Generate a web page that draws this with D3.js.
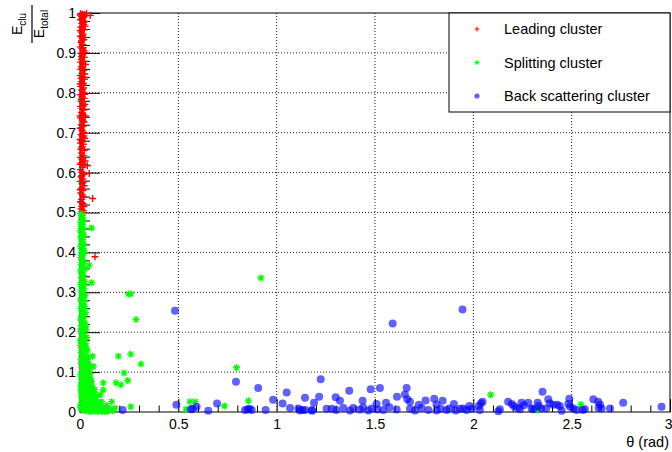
<!DOCTYPE html>
<html>
<head>
<meta charset="utf-8">
<script src="https://cdn.jsdelivr.net/npm/d3@7"></script>
<style>
  body { margin: 0; background: #fff; }
  text { font-family: "Liberation Sans", Arial, Helvetica, sans-serif; fill: #000; }
  .grid line { stroke: #222; stroke-width: 1; stroke-dasharray: 1,2; }
  .axis path { display: none; }
  .axis line { stroke: #000; stroke-width: 1; }
</style>
</head>
<body>
<div id="graphic"></div>
<script>
(function(d3){

    // Canvas size
    let width = 672, height = 452;

    // Axis ticks
    let xMajorTicks = [0, 0.5, 1, 1.5, 2, 2.5, 3];
    let xMinorTicks = [0.1, 0.2, 0.3, 0.4, 0.6, 0.7, 0.8, 0.9, 1.1, 1.2, 1.3, 1.4, 1.6, 1.7, 1.8, 1.9,
                       2.1, 2.2, 2.3, 2.4, 2.6, 2.7, 2.8, 2.9];
    let yMajorTicks = [0, 0.1, 0.2, 0.3, 0.4, 0.5, 0.6, 0.7, 0.8, 0.9, 1];
    let yMinorTicks = [0.02, 0.04, 0.06, 0.08, 0.12, 0.14, 0.16, 0.18, 0.22, 0.24, 0.26, 0.28,
                       0.32, 0.34, 0.36, 0.38, 0.42, 0.44, 0.46, 0.48, 0.52, 0.54, 0.56, 0.58,
                       0.62, 0.64, 0.66, 0.68, 0.72, 0.74, 0.76, 0.78, 0.82, 0.84, 0.86, 0.88,
                       0.92, 0.94, 0.96, 0.98];

    let seriesNames = ['Leading cluster', 'Splitting cluster', 'Back scattering cluster'];

    // Leading cluster: [theta, E_clu/E_total]
    let leading = [
        [.004,.998],[.012,.997],[.021,.996],[.033,.999],[.052,.994],[.008,.991],[.017,.989],[.027,.993],
        [.003,.983],[.014,.981],[.024,.979],[.009,.974],[.019,.971],[.005,.965],[.013,.962],[.022,.958],
        [.007,.952],[.016,.947],[.003,.941],[.011,.937],[.019,.933],[.006,.926],[.014,.921],[.002,.915],
        [.01,.911],[.018,.906],[.005,.899],[.013,.895],[.021,.889],[.008,.884],[.003,.877],[.015,.874],
        [.028,.871],[.009,.866],[.004,.859],[.017,.856],[.011,.849],[.002,.843],[.014,.839],[.022,.834],
        [.007,.828],[.012,.822],[.004,.816],[.018,.812],[.009,.806],[.015,.801],[.003,.795],[.011,.79],
        [.021,.786],[.006,.779],[.014,.774],[.025,.771],[.003,.766],[.01,.761],[.019,.757],[.008,.751],
        [.016,.745],[.027,.742],[.004,.737],[.012,.732],[.021,.727],[.007,.72],[.015,.716],[.002,.711],
        [.011,.706],[.019,.701],[.006,.695],[.014,.69],[.024,.686],[.009,.68],[.003,.674],[.017,.671],
        [.012,.665],[.005,.658],[.021,.655],[.009,.649],[.016,.643],[.003,.638],[.011,.633],[.026,.629],
        [.007,.624],[.018,.619],[.013,.613],[.004,.607],[.037,.617],[.047,.598],[.01,.601],[.019,.595],
        [.006,.589],[.014,.584],[.002,.578],[.011,.572],[.021,.567],[.007,.561],[.015,.555],[.004,.549],
        [.012,.544],[.064,.535],[.018,.539],[.008,.533],[.003,.527],[.014,.522],[.009,.516],[.005,.509],
        [.016,.505],[.011,.501],[.076,.389],
        [.001,.995],[.009,.985],[.018,.977],[.026,.967],[.001,.956],[.012,.944],[.024,.939],[.007,.93],
        [.016,.913],[.026,.902],[.007,.891],[.019,.879],[.012,.862],[.024,.847],[.006,.836],[.017,.824],
        [.001,.822],[.013,.808],[.023,.796],[.007,.784],[.018,.767],[.013,.748],[.001,.742],[.017,.729],
        [.008,.712],[.02,.692],[.001,.683],[.013,.677],[.007,.662],[.019,.637],[.001,.621],[.009,.592],
        [.016,.576],[.002,.557],[.009,.525],[.02,.515]
    ];

    // Splitting cluster
    let splitting = [
        [.004,.497],[.013,.492],[.008,.486],[.017,.481],[.003,.476],[.011,.471],[.006,.465],[.015,.46],
        [.059,.461],[.002,.454],[.01,.449],[.019,.444],[.005,.438],[.013,.432],[.008,.426],[.017,.421],
        [.003,.415],[.012,.41],[.021,.405],[.007,.399],[.015,.393],[.004,.387],[.011,.381],[.047,.368],
        [.019,.376],[.006,.37],[.014,.364],[.025,.358],[.003,.353],[.01,.348],[.018,.342],[.007,.336],
        [.059,.324],[.015,.331],[.023,.326],[.004,.32],[.012,.314],[.02,.309],[.006,.303],[.014,.297],
        [.026,.292],[.009,.286],[.003,.281],[.017,.276],[.011,.27],[.022,.265],[.005,.259],[.014,.254],
        [.028,.249],[.009,.243],[.019,.238],[.003,.233],[.012,.228],[.024,.223],[.007,.217],[.016,.212],
        [.03,.207],[.004,.202],[.011,.197],[.021,.192],[.034,.187],[.008,.182],[.016,.177],[.027,.172],
        [.003,.167],[.012,.162],[.022,.158],[.036,.154],[.007,.149],[.017,.145],[.029,.141],[.042,.138],
        [.064,.14],[.004,.133],[.013,.129],[.024,.125],[.035,.121],[.047,.118],[.068,.114],[.009,.112],
        [.019,.108],[.03,.104],[.041,.1],[.053,.097],[.004,.094],[.014,.09],[.025,.087],[.036,.083],
        [.047,.08],[.058,.077],[.009,.074],[.02,.071],[.031,.068],[.042,.065],[.053,.062],[.064,.059],
        [.075,.056],[.004,.055],[.015,.052],[.026,.049],[.037,.046],[.048,.044],[.059,.041],[.07,.038],
        [.082,.036],[.009,.035],[.02,.032],[.031,.03],[.042,.028],[.053,.025],[.064,.023],[.076,.021],
        [.088,.019],[.098,.022],[.004,.018],[.015,.016],[.026,.014],[.037,.012],[.048,.011],[.06,.009],
        [.071,.008],[.083,.007],[.094,.006],[.105,.011],[.116,.008],[.127,.004],[.009,.005],[.021,.004],
        [.033,.003],[.045,.002],[.057,.001],[.069,.003],[.08,.002],[.091,.001],[.102,.003],[.113,.002],
        [.124,.001],[.14,.002],[.152,.006],[.165,.003],[.178,.01],[.102,.043],[.11,.026],[.135,.016],
        [.145,.01],
        [.002,.012],[.011,.009],[.018,.022],[.027,.007],[.035,.019],[.041,.005],[.05,.017],[.062,.014],
        [.073,.015],[.085,.012],[.096,.014],[.108,.005],[.118,.013],[.013,.027],[.024,.038],[.036,.034],
        [.045,.037],[.056,.032],[.067,.03],[.078,.028],[.089,.026],[.006,.043],[.018,.046],[.029,.057],
        [.041,.053],[.052,.05],[.063,.047],[.074,.044],[.003,.065],[.014,.062],[.026,.078],[.037,.072],
        [.048,.07],[.059,.067],[.007,.083],[.019,.086],[.031,.092],[.042,.088],[.052,.084],[.011,.101],
        [.023,.115],[.036,.11],[.045,.107],[.006,.121],[.018,.134],[.028,.13],[.04,.127],[.009,.155],
        [.021,.168],[.031,.163],[.002,.179],[.013,.19],[.025,.183],[.006,.209],[.018,.22],[.027,.214],
        [.009,.26],[.02,.28],[.015,.32],[.01,.36],[.016,.4],[.008,.44],[.012,.47],
        [.246,.296],[.259,.296],[.285,.232],[.195,.14],[.258,.145],[.224,.098],[.118,.073],
        [.118,.055],[.183,.073],[.208,.068],[.243,.079],[.161,.026],[.258,.013],[.31,.12],[.92,.336],
        [.796,.111],[.856,.028],[.559,.026],[.585,.026],[.539,.007],[.734,.015],[2.088,.043],[2.327,.005],
        [2.547,.019]
    ];

    // Back scattering cluster
    let backScattering = [
        [.217,.005],[.483,.254],[.49,.018],[.564,.007],[.573,.008],[.593,.013],[.652,.003],[.697,.021],
        [.793,.076],[.839,.005],[.852,.006],[.862,.008],[.873,.005],[.906,.06],[.944,.005],[.982,.031],
        [1.03,.021],[1.051,.049],[1.068,.01],[1.11,.009],[1.118,.004],[1.132,.005],[1.144,.036],[1.144,.005],
        [1.178,.005],[1.181,.003],[1.19,.023],[1.216,.038],[1.224,.082],[1.254,.008],[1.28,.008],[1.3,.037],
        [1.302,.005],[1.322,.028],[1.339,.01],[1.369,.053],[1.373,.004],[1.389,.01],[1.424,.006],[1.437,.028],
        [1.44,.011],[1.466,.004],[1.478,.057],[1.483,.009],[1.508,.02],[1.512,.006],[1.525,.06],[1.542,.005],
        [1.556,.023],[1.573,.012],[1.59,.222],[1.61,.006],[1.612,.038],[1.652,.044],[1.661,.06],[1.664,.032],
        [1.678,.026],[1.678,.008],[1.703,.004],[1.723,.018],[1.737,.01],[1.757,.029],[1.771,.005],[1.801,.033],
        [1.813,.019],[1.813,.004],[1.833,.008],[1.844,.028],[1.864,.005],[1.877,.009],[1.901,.02],[1.911,.004],
        [1.932,.008],[1.945,.257],[1.949,.009],[1.966,.005],[1.98,.015],[1.992,.008],[2.028,.015],[2.033,.005],
        [2.039,.022],[2.047,.026],[2.127,.002],[2.135,.007],[2.177,.026],[2.195,.02],[2.206,.015],[2.225,.01],
        [2.237,.007],[2.245,.023],[2.257,.017],[2.279,.023],[2.296,.009],[2.305,.007],[2.327,.023],[2.332,.015],
        [2.352,.051],[2.345,.009],[2.37,.009],[2.381,.032],[2.389,.022],[2.406,.018],[2.427,.018],[2.44,.015],
        [2.449,.003],[2.488,.033],[2.483,.02],[2.492,.013],[2.508,.009],[2.525,.005],[2.556,.005],[2.567,.007],
        [2.61,.032],[2.635,.026],[2.644,.018],[2.652,.009],[2.637,.01],[2.695,.009],[2.762,.023],[2.957,.013]
    ];

    // Plot frame
    let left = 80, right = 670, top = 13, bottom = 412;

    let svg = d3.select('#graphic')
                .append('svg')
                .attr('width', width)
                .attr('height', height);

    svg.append('rect').attr('width', width).attr('height', height).attr('fill', '#fff');

    let x = d3.scaleLinear().domain([0, 3]).range([left, right]);
    let y = d3.scaleLinear().domain([0, 1]).range([bottom, top]);

    // Dotted grid at the major ticks
    let grid = svg.append('g').attr('class', 'grid');
    grid.selectAll('.gx')
        .data(xMajorTicks.slice(1, -1))
        .enter().append('line')
        .attr('x1', d => x(d)).attr('x2', d => x(d))
        .attr('y1', top).attr('y2', bottom);
    grid.selectAll('.gy')
        .data(yMajorTicks.slice(1, -1))
        .enter().append('line')
        .attr('x1', left).attr('x2', right)
        .attr('y1', d => y(d)).attr('y2', d => y(d));

    // Frame
    svg.append('rect')
       .attr('x', left).attr('y', top)
       .attr('width', right - left).attr('height', bottom - top)
       .attr('fill', 'none').attr('stroke', '#000').attr('stroke-width', 1);

    // Axes, ticks pointing inside
    let fmt = d => String(d);

    let xAxis = svg.append('g').attr('class', 'axis')
       .attr('transform', `translate(0,${bottom})`)
       .call(d3.axisBottom(x).tickValues(xMajorTicks).tickSize(-13).tickPadding(7).tickFormat(fmt));
    xAxis.selectAll('text').style('font-size', '14px');
    // the last label sits on the canvas edge: keep it inside
    xAxis.selectAll('.tick').filter(d => d === 3).select('text')
       .attr('text-anchor', 'end').attr('x', 2);

    svg.append('g').attr('class', 'axis')
       .attr('transform', `translate(0,${bottom})`)
       .call(d3.axisBottom(x).tickValues(xMinorTicks).tickSize(-6.5).tickFormat(''));

    svg.append('g').attr('class', 'axis')
       .attr('transform', `translate(${left},0)`)
       .call(d3.axisLeft(y).tickValues(yMajorTicks).tickSize(-20).tickPadding(4).tickFormat(fmt))
       .selectAll('text').style('font-size', '14px');
    svg.append('g').attr('class', 'axis')
       .attr('transform', `translate(${left},0)`)
       .call(d3.axisLeft(y).tickValues(yMinorTicks).tickSize(-10).tickFormat(''));

    svg.selectAll('.axis .tick text').attr('fill', '#000');

    // Axis titles
    svg.append('text')
       .attr('x', 669).attr('y', 447)
       .attr('text-anchor', 'end')
       .style('font-size', '14.5px')
       .text('θ (rad)');

    let yTitle = svg.append('g').attr('transform', 'translate(33,24) rotate(-90)');
    let num = yTitle.append('text').attr('x', 0).attr('y', -11)
        .attr('text-anchor', 'middle').style('font-size', '14px');
    num.append('tspan').text('E');
    num.append('tspan').attr('dy', 4).style('font-size', '10px').text('clu');
    yTitle.append('line')
        .attr('x1', -19).attr('x2', 19).attr('y1', -1).attr('y2', -1)
        .attr('stroke', '#000').attr('stroke-width', 1.2);
    let den = yTitle.append('text').attr('x', 0).attr('y', 11)
        .attr('text-anchor', 'middle').style('font-size', '14px');
    den.append('tspan').text('E');
    den.append('tspan').attr('dy', 4).style('font-size', '10px').text('total');

    // Marker shapes
    function plusPath(s) {
        return `M${-s},0H${s}M0,${-s}V${s}`;
    }
    function starPath(s) {
        let t = s * 0.72;
        return `M${-s},0H${s}M0,${-s}V${s}M${-t},${-t}L${t},${t}M${-t},${t}L${t},${-t}`;
    }

    // Leading cluster
    svg.append('g').selectAll('path')
       .data(leading)
       .enter().append('path')
       .attr('d', plusPath(3.5))
       .attr('transform', d => `translate(${x(d[0])},${y(d[1])})`)
       .attr('stroke', '#ff0000').attr('stroke-width', 1.4).attr('fill', 'none');

    // Splitting cluster
    svg.append('g').selectAll('path')
       .data(splitting)
       .enter().append('path')
       .attr('d', starPath(3.5))
       .attr('transform', d => `translate(${x(d[0])},${y(d[1])})`)
       .attr('stroke', '#00ff00').attr('stroke-width', 1.3).attr('fill', 'none');

    // Back scattering cluster
    svg.append('g').selectAll('circle')
       .data(backScattering)
       .enter().append('circle')
       .attr('cx', d => x(d[0]))
       .attr('cy', d => y(d[1]))
       .attr('r', 4)
       .attr('fill', '#0000ff')
       .attr('fill-opacity', 0.62);

    // Legend
    let legend = svg.append('g');
    legend.append('rect')
          .attr('x', 449).attr('y', 13).attr('width', 221).attr('height', 99)
          .attr('fill', '#fff').attr('stroke', '#000').attr('stroke-width', 1);

    let legendY = d3.scalePoint().domain(seriesNames).range([29, 96]);

    legend.selectAll('text')
          .data(seriesNames)
          .enter().append('text')
          .attr('x', 504)
          .attr('y', d => legendY(d) + 5)
          .style('font-size', '14.5px')
          .text(d => d);

    legend.append('path').attr('d', plusPath(2.5))
          .attr('transform', `translate(477,${legendY(seriesNames[0])})`)
          .attr('stroke', '#ff0000').attr('stroke-width', 1);
    legend.append('path').attr('d', starPath(2.5))
          .attr('transform', `translate(477,${legendY(seriesNames[1])})`)
          .attr('stroke', '#00ff00').attr('stroke-width', 1);
    legend.append('circle')
          .attr('cx', 477).attr('cy', legendY(seriesNames[2])).attr('r', 2.6)
          .attr('fill', '#0000ff').attr('fill-opacity', 0.62);

})(window.d3);
</script>
</body>
</html>
